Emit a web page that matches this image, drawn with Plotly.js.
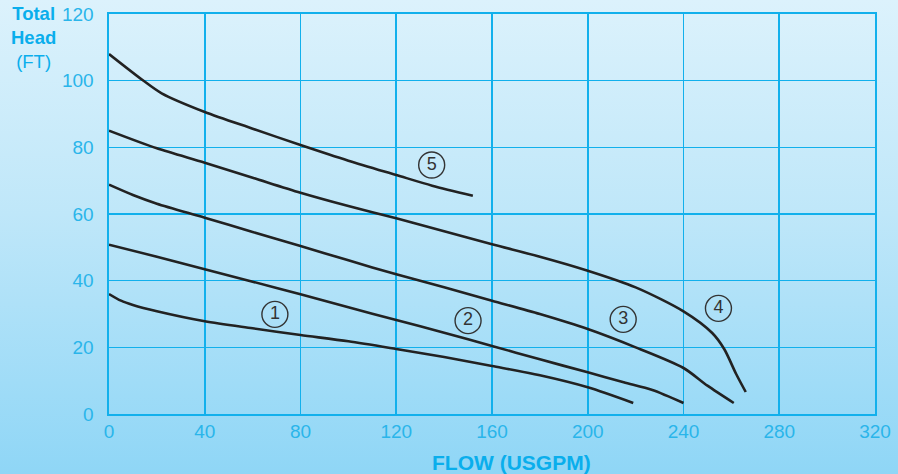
<!DOCTYPE html>
<html>
<head>
<meta charset="utf-8">
<script src="https://cdn.plot.ly/plotly-3.0.1.min.js"></script>
<style>
html,body{margin:0;padding:0;}
body{width:898px;height:474px;background:linear-gradient(to bottom,#dcf2fc 0%,#bfe7f9 45%,#8fd6f6 100%);}
#chart{width:898px;height:474px;}
</style>
</head>
<body>
<div id="chart"></div>
<script>
// Pump curves: flow (USGPM) vs total head (FT)
const c1x = [0,5,10,20,40,60,80,100,120,140,160,180,200,219];
const c1y = [36,34,32.7,30.8,27.8,25.7,23.7,21.8,19.5,17.1,14.4,11.6,8.0,3.3];
const c2x = [0,20,40,60,80,100,120,140,160,180,200,215,227,240];
const c2y = [50.8,47.2,43.4,39.7,35.9,32,28.2,24.4,20.4,16.4,12.5,9.5,7.2,3.3];
const c3x = [0,10,20,40,60,80,100,120,140,160,180,200,220,240,250,261];
const c3y = [68.8,65.7,63.1,58.9,54.6,50.4,46.1,41.9,38,34,30,25.5,20,13.8,8.5,3.3];
const c4x = [0,20,40,60,80,100,120,140,160,180,200,220,240,252,257,262,266];
const c4y = [85,79.7,75.4,70.9,66.4,62.4,58.7,54.8,50.9,47.2,43,38,30.8,24.3,19.5,12,6.6];
const c5x = [0,14,22,40,60,80,100,120,135,152];
const c5y = [108,100.2,96.2,90.6,85.6,80.7,76,71.7,68.5,65.5];

const labelText = ["1","2","3","4","5"];
const labelX = [69.3,150,214.8,254.6,134.8];
const labelY = [29.9,28,28.4,31.7,74.7];

const xTicks = [0,40,80,120,160,200,240,280,320];
const yTicks = [0,20,40,60,80,100,120];

const cyan = "#12b0ec";
const tickCol = "#2ab5ea";
const lineStyle = {color:"#222222", width:2.6, shape:"spline", smoothing:0.8};

const curves = [[c1x,c1y],[c2x,c2y],[c3x,c3y],[c4x,c4y],[c5x,c5y]];
const traces = curves.map(c => ({
  x:c[0], y:c[1], type:"scatter", mode:"lines", line:lineStyle, hoverinfo:"skip", showlegend:false
}));
traces.push({
  x:labelX, y:labelY, text:labelText, type:"scatter", mode:"markers+text",
  textposition:"middle center",
  textfont:{family:"Liberation Sans, Arial, sans-serif", size:18, color:"#333333"},
  marker:{symbol:"circle-open", size:26, color:"#333333", line:{width:1.4, color:"#333333"}},
  showlegend:false, hoverinfo:"skip"
});

const layout = {
  width:898, height:474,
  margin:{l:109, r:23, t:14, b:60},
  paper_bgcolor:"rgba(0,0,0,0)",
  plot_bgcolor:"rgba(0,0,0,0)",
  font:{family:"Liberation Sans, Arial, sans-serif", color:tickCol},
  xaxis:{
    range:[0,320], tickvals:xTicks, ticktext:xTicks.map(String),
    showgrid:true, gridcolor:cyan, gridwidth:1.6,
    showline:true, linecolor:cyan, linewidth:1.6, mirror:true,
    zeroline:false, ticks:"", tickfont:{size:19, color:tickCol}, fixedrange:true
  },
  yaxis:{
    range:[0,120], tickvals:yTicks, ticktext:yTicks.map(String),
    showgrid:true, gridcolor:cyan, gridwidth:1.6,
    showline:true, linecolor:cyan, linewidth:1.6, mirror:true,
    zeroline:false, ticks:"", tickfont:{size:19, color:tickCol}, fixedrange:true,
    ticklabelstandoff:10
  },
  annotations:[
    {xref:"paper", yref:"paper", x:-0.099, y:0.9425, xanchor:"center", yanchor:"middle",
     text:"<b>Total</b><br><b>Head</b><br>(FT)", showarrow:false, align:"center",
     font:{size:18.5, color:"#0aaeec"}},
    {xref:"paper", yref:"paper", x:0.526, y:-0.12, xanchor:"center", yanchor:"middle",
     text:"<b>FLOW (USGPM)</b>", showarrow:false,
     font:{size:21, color:"#0aaeec"}}
  ]
};

Plotly.newPlot("chart", traces, layout, {displayModeBar:false, staticPlot:true});
</script>
</body>
</html>
